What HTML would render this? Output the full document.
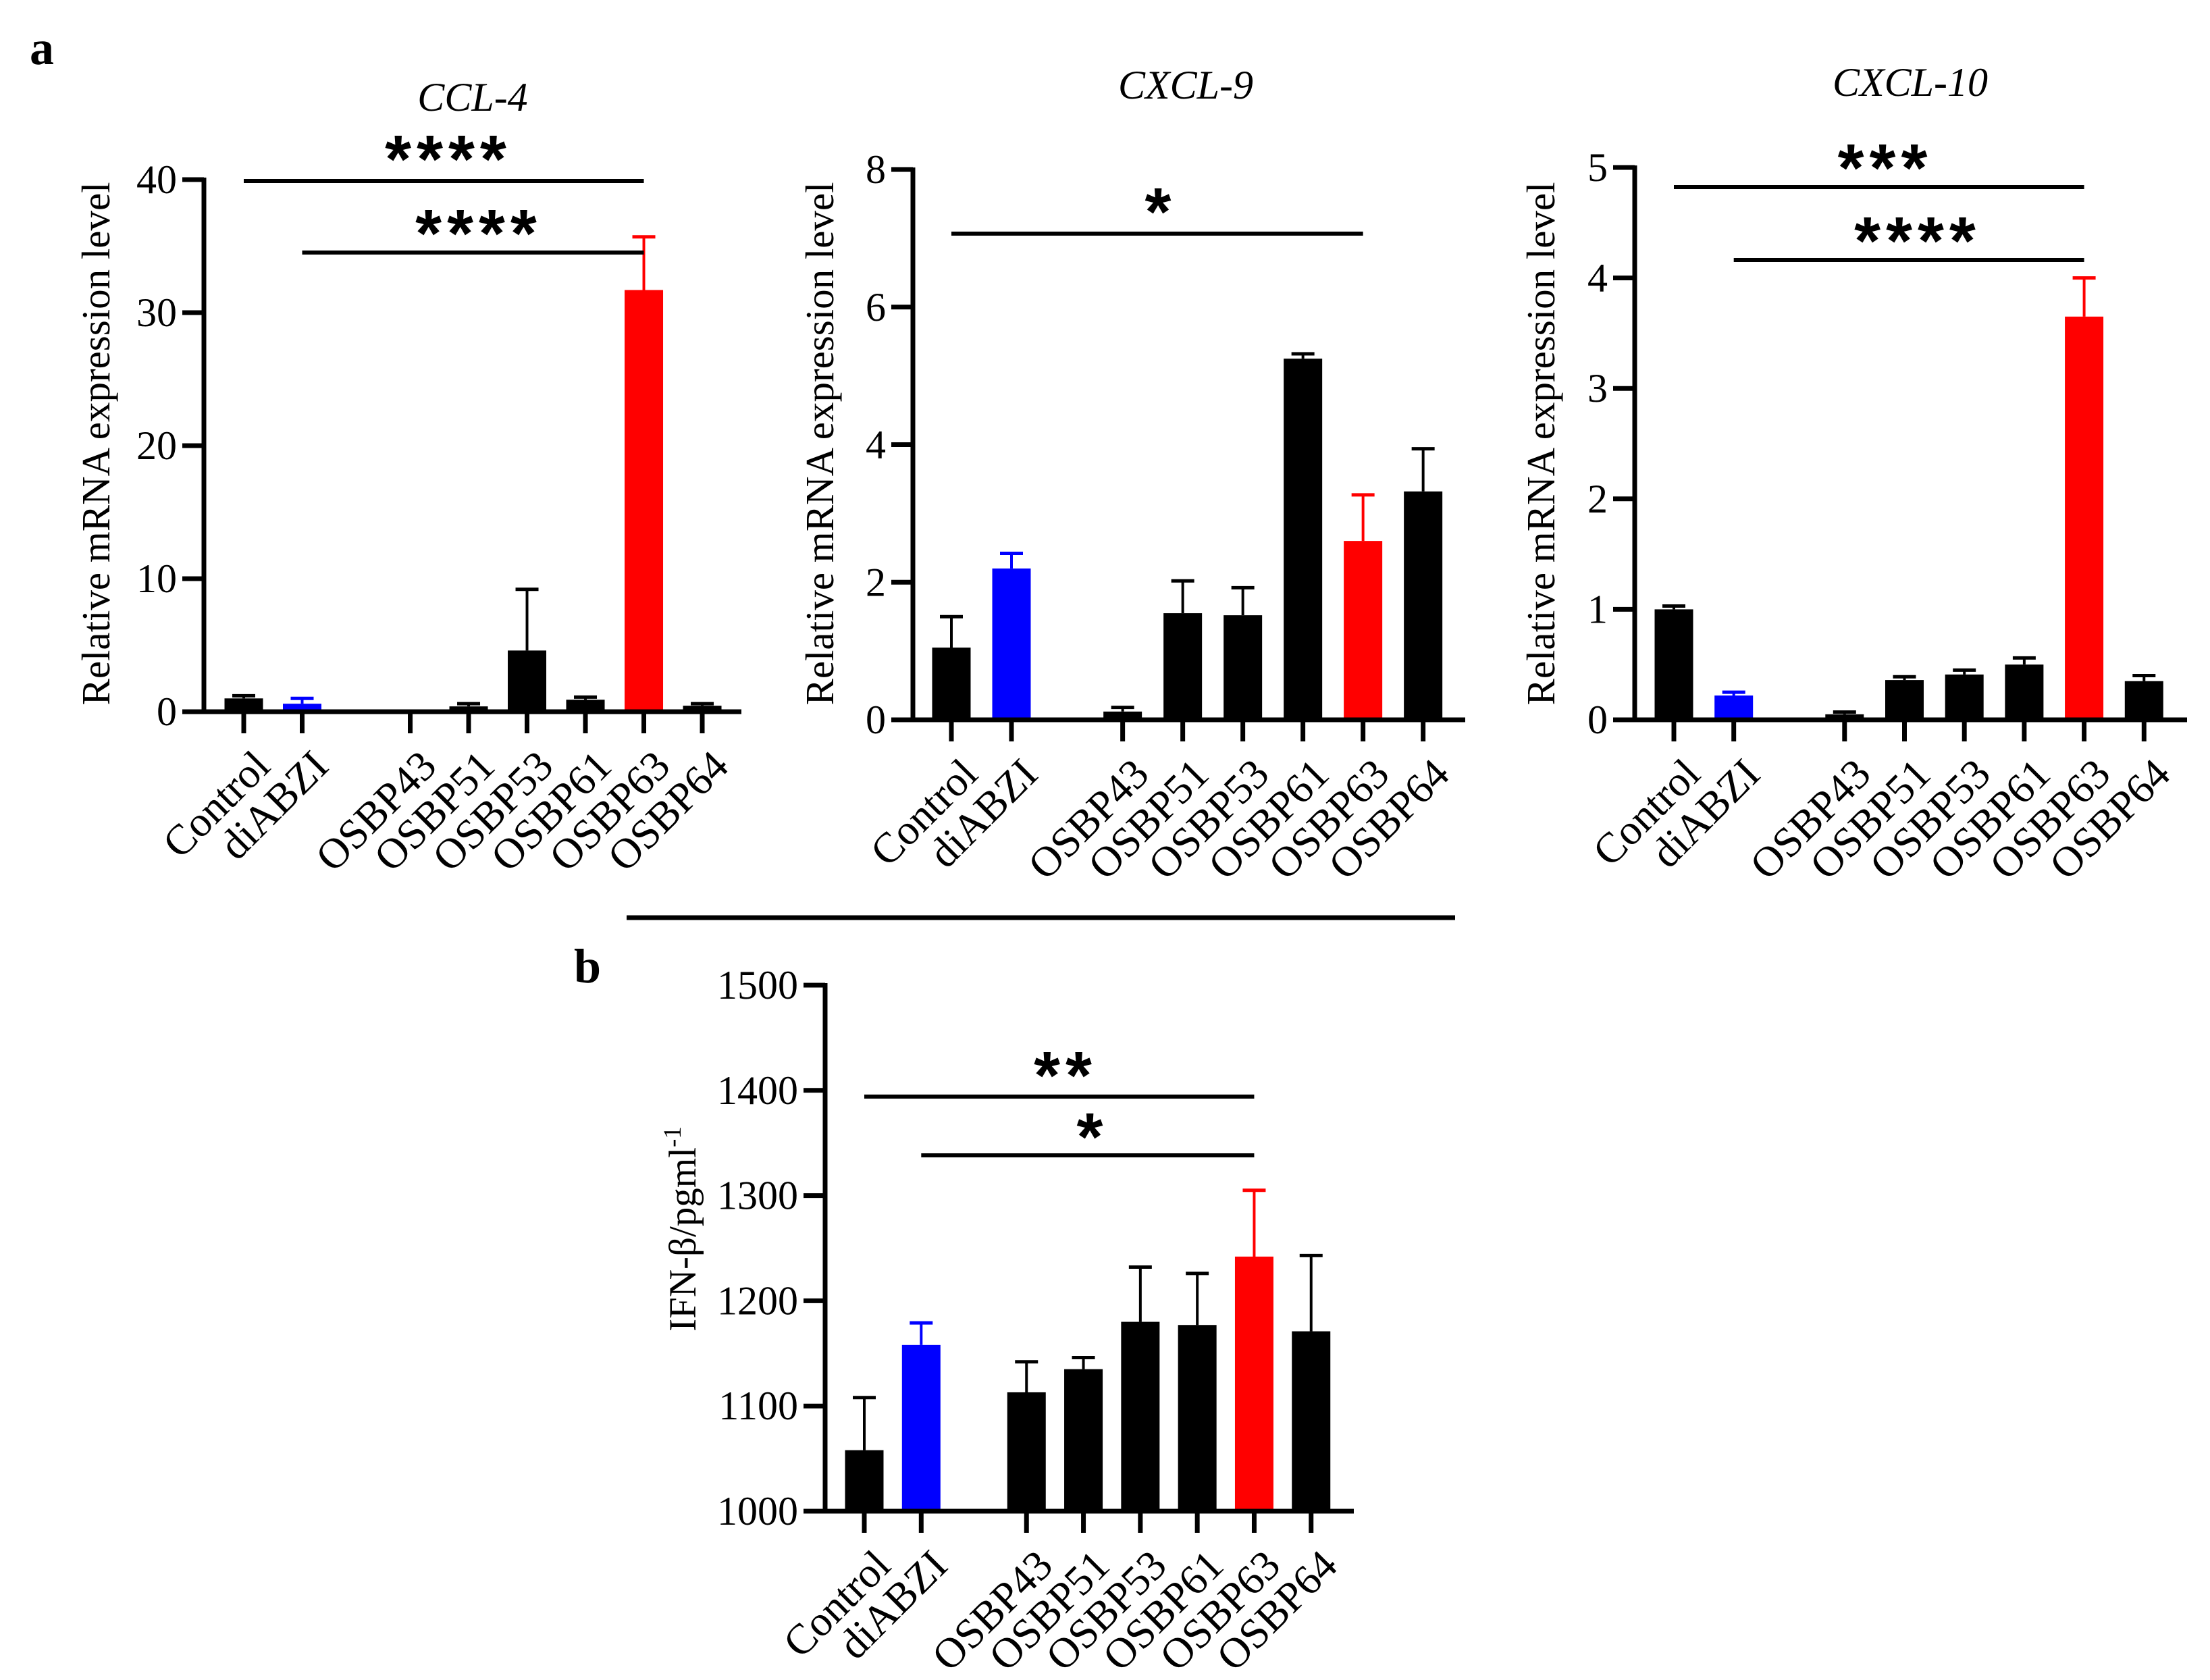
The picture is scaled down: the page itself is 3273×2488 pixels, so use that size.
<!DOCTYPE html>
<html><head><meta charset="utf-8"><style>
html,body{margin:0;padding:0;background:#fff;}
svg{display:block;}
text{font-family:"Liberation Serif",serif;}
.star{font-family:"Liberation Sans",sans-serif;font-weight:bold;}
</style></head><body>
<svg id="fig" width="3273" height="2488" viewBox="0 0 3273 2488" xmlns="http://www.w3.org/2000/svg">
<text x="44" y="95" font-size="72" font-weight="bold">a</text>
<text x="850" y="1455" font-size="72" font-weight="bold">b</text>
<line x1="928" y1="1359" x2="2155" y2="1359" stroke="#000" stroke-width="7"/>
</svg>
<script>
const categories = ["Control","diABZI","OSBP43","OSBP51","OSBP53","OSBP61","OSBP63","OSBP64"];
const barColors = ["#000","#0000ff","#000","#000","#000","#000","#ff0000","#000"];
const ccl4Values = [1.0,0.6,0,0.4,4.6,0.9,31.7,0.45];
const ccl4Errors = [0.2,0.4,0,0.2,4.6,0.2,4.0,0.15];
const ccl4Ticks = [0,10,20,30,40];
const cxcl9Values = [1.05,2.2,0.12,1.55,1.52,5.25,2.6,3.32];
const cxcl9Errors = [0.45,0.22,0.06,0.47,0.4,0.07,0.67,0.62];
const cxcl9Ticks = [0,2,4,6,8];
const cxcl10Values = [1.0,0.22,0.05,0.36,0.41,0.5,3.65,0.35];
const cxcl10Errors = [0.03,0.03,0.02,0.03,0.04,0.06,0.35,0.05];
const cxcl10Ticks = [0,1,2,3,4,5];
const ifnValues = [1058,1158,1113,1135,1180,1177,1242,1171];
const ifnErrors = [50,21,29,11,52,49,63,72];
const ifnTicks = [1000,1100,1200,1300,1400,1500];

const NS="http://www.w3.org/2000/svg";
const svg=document.getElementById('fig');
function mk(tag,attrs,parent){const e=document.createElementNS(NS,tag);for(const k in attrs)e.setAttribute(k,attrs[k]);(parent||svg).appendChild(e);return e;}

function panel(p){
  const g=mk('g',{});
  
  
  const ymin=p.ticks[0], ymax=p.ticks[p.ticks.length-1];
  const y=v=>p.y0+(v-ymin)/(ymax-ymin)*(p.yTop-p.y0);
  const xs=i=>p.xFirst+(i<2?i:i+0.85)*p.step;
  p.values.forEach((v,i)=>{
    const cx=xs(i), top=y(v), et=y(v+p.errors[i]);
    const col=barColors[i];
    if(p.errors[i]>0){
      const l=mk('line',{x1:cx,y1:top,x2:cx,y2:et,stroke:col,'stroke-width':4},g);
      
      
      const c=mk('line',{x1:cx-17,y1:et,x2:cx+17,y2:et,stroke:col,'stroke-width':5},g);
      
      
    }
    if(v>ymin){
      const r=mk('rect',{x:cx-p.bw/2,y:top,width:p.bw,height:p.y0-top,fill:col},g);
      
      
    }
    const t=mk('line',{x1:cx,y1:p.y0,x2:cx,y2:p.y0+32,stroke:'#000','stroke-width':7},g);
    
    
    const bx=cx+42, by=p.y0+84;
    const lab=mk('text',{x:bx,y:by,'font-size':63,'text-anchor':'end',transform:`rotate(-45 ${bx} ${by})`},g);
    lab.textContent=categories[i];
    
    
  });
  const ya=mk('line',{x1:p.ax,y1:y(ymax)-3,x2:p.ax,y2:p.y0+3,stroke:'#000','stroke-width':7},g);
  
  
  const xa=mk('line',{x1:p.ax-32,y1:p.y0,x2:p.axEnd,y2:p.y0,stroke:'#000','stroke-width':7},g);
  
  
  p.ticks.forEach(tv=>{
    const yy=y(tv);
    const tk=mk('line',{x1:p.ax-32,y1:yy,x2:p.ax,y2:yy,stroke:'#000','stroke-width':7},g);
    
    
    const tl=mk('text',{x:p.ax-40,y:yy+20,'font-size':60,'text-anchor':'end'},g);
    tl.textContent=tv;
    
    
  });
  const yl=mk('text',{x:p.ylx,y:p.yly,'font-size':p.ylfs,'text-anchor':'middle',transform:`rotate(-90 ${p.ylx} ${p.yly})`},g);
  if(p.ylabelSup){
    yl.textContent=p.ylabel;
    const s=mk('tspan',{'font-size':p.ylfs*0.65,dy:-22},yl); s.textContent=p.ylabelSup;
  } else yl.textContent=p.ylabel;
  
  
  if(p.title){
    const tt=mk('text',{x:p.tx,y:p.ty+21,'font-size':60,'font-style':'italic','text-anchor':'middle'},g);
    tt.textContent=p.title;
    
    
  }
  p.sig.forEach(s=>{
    const x1=xs(s.from), x2=xs(s.to);
    const ln=mk('line',{x1:x1,y1:s.y,x2:x2,y2:s.y,stroke:'#000','stroke-width':6},g);
    
    
    const st=mk('text',{x:s.sx,y:s.sy+58,'font-size':100,'text-anchor':'middle','letter-spacing':8,'class':'star'},g);
    st.textContent=s.label;
    
    
  });
}

panel({id:'ccl4',values:ccl4Values,errors:ccl4Errors,ticks:ccl4Ticks,y0:1054,yTop:266,ax:302,axEnd:1098,xFirst:361,step:86.5,bw:57,
  ylabel:'Relative mRNA expression level',ylx:162,yly:657,ylfs:59,title:'CCL-4',tx:700,ty:143,
  sig:[{from:0,to:6,y:268,label:'****',sx:664,sy:212},{from:1,to:6,y:374,label:'****',sx:709,sy:322}]});
panel({id:'cxcl9',values:cxcl9Values,errors:cxcl9Errors,ticks:cxcl9Ticks,y0:1066,yTop:251,ax:1352,axEnd:2170,xFirst:1409,step:89,bw:57,
  ylabel:'Relative mRNA expression level',ylx:1234,yly:657,ylfs:59,title:'CXCL-9',tx:1756,ty:125,
  sig:[{from:0,to:6,y:346,label:'*',sx:1719,sy:290}]});
panel({id:'cxcl10',values:cxcl10Values,errors:cxcl10Errors,ticks:cxcl10Ticks,y0:1066,yTop:248,ax:2421,axEnd:3239,xFirst:2479,step:88.7,bw:57,
  ylabel:'Relative mRNA expression level',ylx:2302,yly:657,ylfs:59,title:'CXCL-10',tx:2829,ty:121,
  sig:[{from:0,to:6,y:277,label:'***',sx:2792,sy:225},{from:1,to:6,y:385,label:'****',sx:2840,sy:333}]});
panel({id:'ifn',values:ifnValues,errors:ifnErrors,ticks:ifnTicks,y0:2238,yTop:1459,ax:1222,axEnd:2005,xFirst:1280,step:84.3,bw:57,
  ylabel:'IFN-β/pgml',ylabelSup:'-1',ylx:1030,yly:1820,ylfs:57,title:null,
  sig:[{from:0,to:6,y:1624,label:'**',sx:1578,sy:1569},{from:1,to:6,y:1711,label:'*',sx:1618,sy:1660}]});
</script>
</body></html>
